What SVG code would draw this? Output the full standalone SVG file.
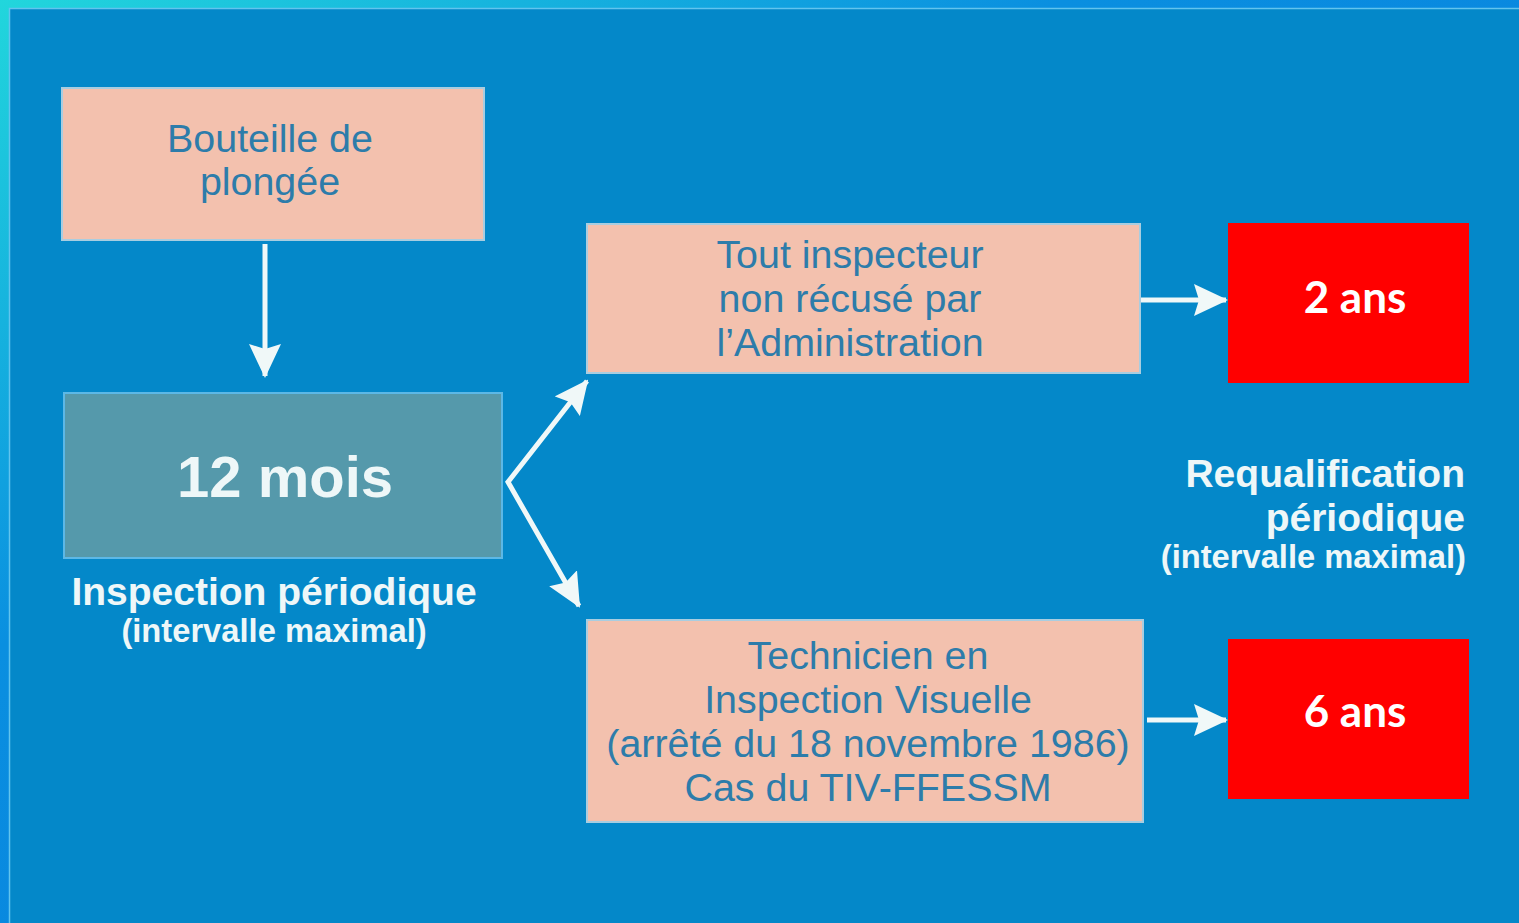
<svg xmlns="http://www.w3.org/2000/svg" width="1519" height="923" viewBox="0 0 1519 923">
<style>
.bg-inner{fill:#0488c9}
.salmon{fill:#f3c1ae;stroke:#a9cde0;stroke-width:2}
.teal{fill:#5599ab;stroke:#5cb8e6;stroke-width:2}
.red{fill:#ff0000}
.dark{font-family:"Liberation Sans",Arial,sans-serif;font-size:39.4px;fill:#2d7caa;text-anchor:middle}
.wb{font-family:"Liberation Sans",Arial,sans-serif;font-weight:bold;fill:#eef7f8}
.ans{font-family:Lato,"Open Sans",sans-serif;font-weight:bold;font-size:44px;fill:#ffffff;text-anchor:middle}
.conn{fill:none;stroke:#f0f8f8;stroke-width:5;stroke-linejoin:miter}
</style>
<defs>
<linearGradient id="frame" x1="0" y1="0" x2="1" y2="1">
<stop offset="0" stop-color="#22d6dc"/>
<stop offset="0.35" stop-color="#0a8fe0"/>
<stop offset="1" stop-color="#0676de"/>
</linearGradient>
<marker id="ah" viewBox="0 0 34 32" refX="32" refY="16" markerWidth="34" markerHeight="32" markerUnits="userSpaceOnUse" orient="auto-start-reverse">
<path d="M0,0 L34,16 L0,32 L5,16 z" fill="#f0f8f8"/>
</marker>
</defs>
<rect x="0" y="0" width="1519" height="923" fill="url(#frame)"/>
<rect x="9" y="8" width="1510" height="915" class="bg-inner"/>
<path d="M9.5,923 V8.5 H1519" fill="none" stroke="#62c4ee" stroke-width="1.5"/>

<g id="connectors">
<path class="conn" d="M265,244 V376" marker-end="url(#ah)"/>
<path class="conn" d="M587,381 L508,482 L579,606" marker-start="url(#ah)" marker-end="url(#ah)"/>
<path class="conn" d="M1141,300 H1226" marker-end="url(#ah)"/>
<path class="conn" d="M1147,720 H1226" marker-end="url(#ah)"/>
</g>

<g id="bouteille">
<rect x="62" y="88" width="422" height="152" class="salmon"/>
<text class="dark" x="270" y="152">Bouteille de</text>
<text class="dark" x="270" y="195">plongée</text>
</g>

<g id="douze-mois">
<rect x="64" y="393" width="438" height="165" class="teal"/>
<text class="wb" x="285" y="497" font-size="58" text-anchor="middle">12 mois</text>
</g>

<g id="inspection-label">
<text class="wb" x="274" y="605" font-size="39" text-anchor="middle">Inspection périodique</text>
<text class="wb" x="274" y="642" font-size="32.7" text-anchor="middle">(intervalle maximal)</text>
</g>

<g id="tout-inspecteur">
<rect x="587" y="224" width="553" height="149" class="salmon"/>
<text class="dark" x="850" y="268">Tout inspecteur</text>
<text class="dark" x="850" y="312">non récusé par</text>
<text class="dark" x="850" y="356">l’Administration</text>
</g>

<g id="technicien">
<rect x="587" y="620" width="556" height="202" class="salmon"/>
<text class="dark" x="868" y="669">Technicien en</text>
<text class="dark" x="868" y="713">Inspection Visuelle</text>
<text class="dark" x="868" y="757">(arrêté du 18 novembre 1986)</text>
<text class="dark" x="868" y="801">Cas du TIV-FFESSM</text>
</g>

<g id="deux-ans">
<rect x="1228" y="223" width="241" height="160" class="red"/>
<text class="ans" x="1355" y="313">2 ans</text>
</g>

<g id="six-ans">
<rect x="1228" y="639" width="241" height="160" class="red"/>
<text class="ans" x="1355" y="727">6 ans</text>
</g>

<g id="requalification-label">
<text class="wb" x="1465" y="487" font-size="39" text-anchor="end">Requalification</text>
<text class="wb" x="1465" y="531" font-size="39" text-anchor="end">périodique</text>
<text class="wb" x="1466" y="568" font-size="32.7" text-anchor="end">(intervalle maximal)</text>
</g>
</svg>
